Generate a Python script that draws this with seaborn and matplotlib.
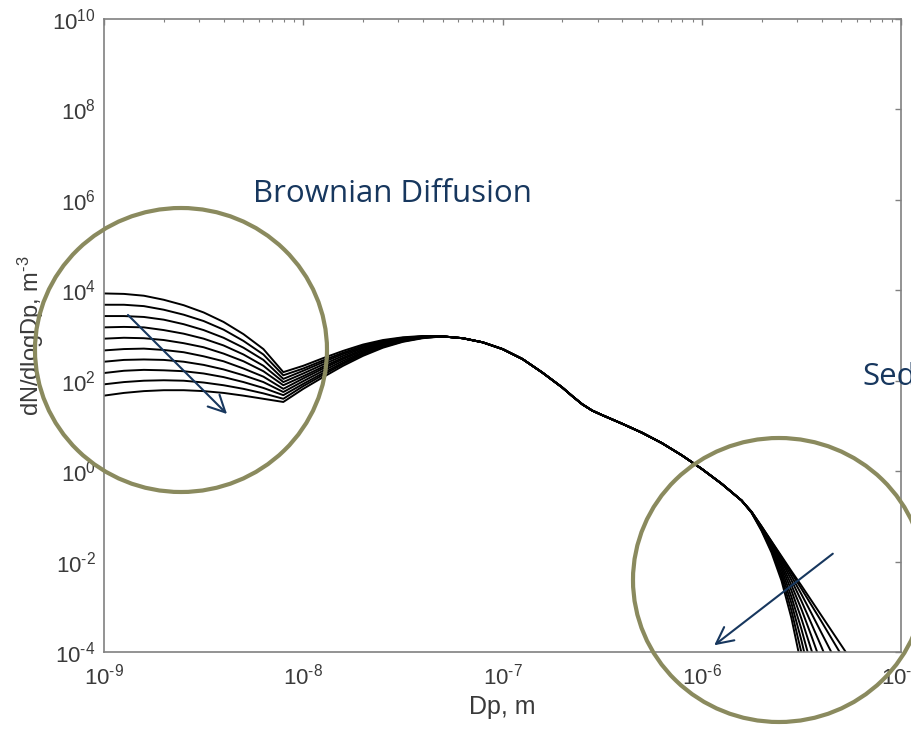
import matplotlib
matplotlib.use('Agg')
import matplotlib.pyplot as plt
from matplotlib import ticker
from matplotlib.patches import Ellipse
import numpy as np
import pandas as pd
import seaborn as sns

# log10(Dp) grids
x_left = [-9.0, -8.9, -8.8, -8.7, -8.6, -8.5, -8.4, -8.3, -8.2, -8.1,
          -8.0, -7.9, -7.8, -7.7, -7.6, -7.5, -7.4]
x_mid = [-7.3, -7.2, -7.1, -7.0, -6.9, -6.8, -6.7, -6.65, -6.6, -6.55, -6.5,
         -6.4, -6.3, -6.2, -6.1, -6.0, -5.9, -5.8]
x_right = [-5.75, -5.70, -5.65, -5.60, -5.55, -5.50, -5.45, -5.40, -5.35, -5.30, -5.25]

# log10(dN/dlogDp), one list per time step (first = earliest)
left_branches = [
    [3.93, 3.92, 3.88, 3.79, 3.67, 3.51, 3.30, 3.03, 2.70, 2.19, 2.33, 2.50, 2.66, 2.80, 2.90, 2.96, 2.99],
    [3.68, 3.68, 3.65, 3.57, 3.46, 3.32, 3.13, 2.88, 2.58, 2.12, 2.27, 2.45, 2.62, 2.77, 2.88, 2.95, 2.98],
    [3.43, 3.43, 3.41, 3.35, 3.25, 3.12, 2.95, 2.73, 2.46, 2.04, 2.22, 2.41, 2.59, 2.74, 2.86, 2.94, 2.98],
    [3.18, 3.19, 3.18, 3.12, 3.04, 2.93, 2.78, 2.58, 2.33, 1.97, 2.16, 2.36, 2.55, 2.72, 2.84, 2.93, 2.97],
    [2.93, 2.95, 2.94, 2.90, 2.83, 2.74, 2.60, 2.43, 2.21, 1.90, 2.10, 2.31, 2.51, 2.69, 2.82, 2.92, 2.97],
    [2.67, 2.70, 2.71, 2.68, 2.63, 2.54, 2.43, 2.27, 2.09, 1.82, 2.05, 2.27, 2.48, 2.66, 2.81, 2.90, 2.96],
    [2.42, 2.46, 2.47, 2.46, 2.42, 2.35, 2.25, 2.12, 1.97, 1.75, 1.99, 2.22, 2.44, 2.63, 2.79, 2.89, 2.96],
    [2.17, 2.22, 2.24, 2.23, 2.21, 2.16, 2.08, 1.97, 1.84, 1.68, 1.93, 2.17, 2.40, 2.61, 2.77, 2.88, 2.95],
    [1.92, 1.97, 2.00, 2.01, 2.00, 1.96, 1.90, 1.82, 1.72, 1.60, 1.88, 2.13, 2.37, 2.58, 2.75, 2.87, 2.95],
    [1.67, 1.73, 1.77, 1.79, 1.79, 1.77, 1.73, 1.67, 1.60, 1.53, 1.82, 2.08, 2.33, 2.55, 2.73, 2.86, 2.94],
]
mid_curve = [2.98, 2.94, 2.85, 2.70, 2.48, 2.18, 1.85, 1.66, 1.48, 1.34, 1.24,
             1.05, 0.85, 0.62, 0.35, 0.05, -0.28, -0.65]
right_tails = [
    [-0.90, -1.22, -1.55, -1.88, -2.21, -2.53, -2.86, -3.19, -3.52, -3.85, -4.18],
    [-0.90, -1.22, -1.56, -1.90, -2.25, -2.60, -2.96, -3.32, -3.69, -4.06, -4.42],
    [-0.90, -1.23, -1.58, -1.94, -2.32, -2.72, -3.14, -3.57, -4.00, -4.43, -4.87],
    [-0.90, -1.24, -1.60, -1.98, -2.41, -2.87, -3.37, -3.88, -4.40, -4.92, -5.43],
    [-0.91, -1.25, -1.62, -2.04, -2.52, -3.05, -3.64, -4.26, -4.88, -5.49, -6.11],
    [-0.91, -1.26, -1.65, -2.10, -2.64, -3.26, -3.95, -4.69, -5.42, -6.15, -6.88],
    [-0.91, -1.27, -1.69, -2.17, -2.78, -3.49, -4.30, -5.15, -6.01, -6.87, -7.73],
    [-0.91, -1.29, -1.72, -2.25, -2.92, -3.74, -4.67, -5.67, -6.66, -7.66, -8.65],
    [-0.92, -1.30, -1.76, -2.33, -3.08, -4.01, -5.07, -6.22, -7.36, -8.50, -9.64],
    [-0.92, -1.32, -1.80, -2.42, -3.25, -4.30, -5.50, -6.80, -8.10, -9.40, -10.70],
]

x_ticks = [1e-9, 1e-8, 1e-7, 1e-6, 1e-5]
y_ticks = [1e-4, 1e-2, 1e0, 1e2, 1e4, 1e6, 1e8, 1e10]

#%% build long table
frames = []
for i in range(len(left_branches)):
    xs = np.array(x_left + x_mid + x_right)
    ys = np.array(left_branches[i] + mid_curve + right_tails[i])
    frames.append(pd.DataFrame({'Dp': 10.0 ** xs, 'dNdlogDp': 10.0 ** ys, 'step': i}))
df = pd.concat(frames, ignore_index=True)

#%% plot
sns.set_style('white')
plt.rcParams['font.family'] = ['Liberation Sans', 'DejaVu Sans']
plt.rcParams['mathtext.fontset'] = 'custom'
plt.rcParams['mathtext.rm'] = 'Liberation Sans'
plt.rcParams['mathtext.it'] = 'Liberation Sans:italic'
plt.rcParams['mathtext.default'] = 'regular'

axis_grey = '#808080'
text_grey = '#3a3a3a'
olive = '#8a8a5e'
navy = '#17375e'


def pow10_label(v, pos):
    # matlab style: short hyphen in the exponent
    e = int(round(np.log10(v)))
    if e < 0:
        return r'$10^{\text{-}%d}$' % (-e)
    return r'$10^{%d}$' % e


fig = plt.figure(figsize=(9.12, 7.3), dpi=100)
ax = fig.add_axes([104 / 912, 78 / 730, 797 / 912, 633 / 730])
ax.set_xscale('log')
ax.set_yscale('log')

sns.lineplot(data=df, x='Dp', y='dNdlogDp', units='step', estimator=None,
             color='black', lw=1.4, legend=False, ax=ax)

ax.set_xlim(1e-9, 1e-5)
ax.set_ylim(1e-4, 1e10)
ax.set_xticks(x_ticks)
ax.set_yticks(y_ticks)
ax.xaxis.set_major_formatter(ticker.FuncFormatter(pow10_label))
ax.yaxis.set_major_formatter(ticker.FuncFormatter(pow10_label))
ax.xaxis.set_minor_locator(ticker.LogLocator(base=10, subs=np.arange(2, 10), numticks=20))
ax.xaxis.set_minor_formatter(ticker.NullFormatter())
ax.yaxis.set_minor_locator(ticker.NullLocator())

for s in ax.spines.values():
    s.set_visible(True)
    s.set_color(axis_grey)
    s.set_linewidth(1.2)
ax.tick_params(which='both', direction='in', top=True, right=True,
               color=axis_grey, labelcolor=text_grey, labelsize=16)
ax.tick_params(which='major', length=4.5, width=1)
ax.tick_params(which='minor', length=2.5, width=0.8)
ax.tick_params(axis='x', pad=8)
ax.tick_params(axis='y', pad=6)

ax.set_xlabel('Dp, m', fontsize=18, color=text_grey, labelpad=4)
ax.set_ylabel(r'dN/dlogDp, m$^{\text{-}3}$', fontsize=17, color=text_grey, labelpad=4)

#%% annotations (pixel positions of the slide overlay)
W, H = 912, 730
for cx, cy in [(181, 350), (779, 580)]:
    fig.add_artist(Ellipse((cx / W, 1 - cy / H), 2 * 146 / W, 2 * 142 / H,
                           transform=fig.transFigure, fill=False,
                           ec=olive, lw=3, zorder=5))

arrow_kw = dict(arrowstyle='->', color=navy, lw=1.5, mutation_scale=30)
ax.annotate('', xy=(229 / W, 1 - 416 / H), xytext=(126 / W, 1 - 313 / H),
            xycoords='figure fraction', textcoords='figure fraction',
            arrowprops=arrow_kw, zorder=6)
ax.annotate('', xy=(712 / W, 1 - 647 / H), xytext=(835 / W, 1 - 552 / H),
            xycoords='figure fraction', textcoords='figure fraction',
            arrowprops=arrow_kw, zorder=6)

fig.text(253 / W, 1 - 202 / H, 'Brownian Diffusion', family='Open Sans',
         fontsize=22.5, color=navy, va='baseline', ha='left', zorder=6)
fig.text(862 / W, 1 - 385 / H, 'Sedimentation', family='Open Sans',
         fontsize=22.5, color=navy, va='baseline', ha='left', zorder=6)

fig.savefig('out.png', dpi=100, facecolor='white')
